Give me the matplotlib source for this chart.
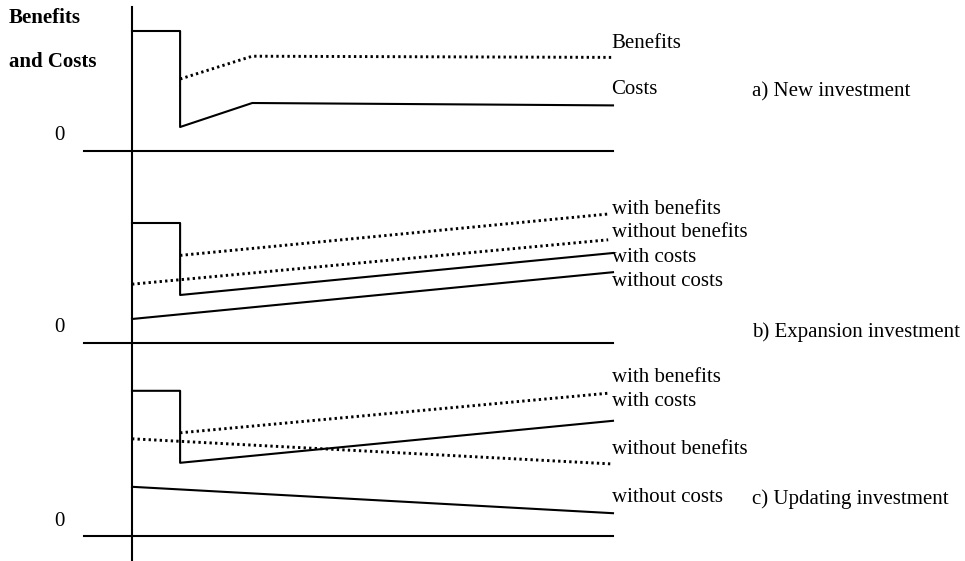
import matplotlib.pyplot as plt

# Data (time on x, level on y; 0 = each panel's baseline) ------------------
a_cost_t = [0, 1, 1, 2.5, 10]
a_cost_v = [10, 10, 2, 4, 3.8]
a_ben_t = [1, 2.5, 10]
a_ben_v = [6, 7.9, 7.8]

b_with_cost_t = [0, 1, 1, 10]
b_with_cost_v = [10, 10, 4, 7.5]
b_without_cost_t = [0, 10]
b_without_cost_v = [2, 5.9]
b_with_ben_t = [1, 9.9]
b_with_ben_v = [7.3, 10.75]
b_without_ben_t = [0, 9.9]
b_without_ben_v = [4.9, 8.6]

c_with_cost_t = [0, 1, 1, 10]
c_with_cost_v = [12.1, 12.1, 6.1, 9.6]
c_with_ben_t = [1, 9.9]
c_with_ben_v = [8.6, 11.9]
c_without_ben_t = [0, 10]
c_without_ben_v = [8.1, 6.0]
c_without_cost_t = [0, 10]
c_without_cost_v = [4.1, 1.9]

# curve labels: (text, y) placed at the right end of the lines
a_labels = [("Benefits", 9.0), ("Costs", 5.1)]
b_labels = [("with benefits", 11.1), ("without benefits", 9.2),
            ("with costs", 7.1), ("without costs", 5.1)]
c_labels = [("with benefits", 13.25), ("with costs", 11.2),
            ("without benefits", 7.2), ("without costs", 3.2)]
titles = [("a) New investment", 4.9), ("b) Expansion investment", 0.9),
          ("c) Updating investment", 3.1)]

# Layout (pixels of a 965x561 image) ----------------------------------------
W, H = 965, 561
X0, PX_X = 132, 48.1          # pixel of t=0, pixels per time unit
PX_Y = 12.0                   # pixels per level unit
panels = [(0, 172, 151), (172, 365, 343), (365, 561, 536)]  # top, bottom, baseline

SERIF = "Liberation Serif"
FS = 15
LW = 1.5
DOT = dict(color="black", lw=2.1, linestyle=(0, (0.8, 1.1)), dash_capstyle="butt")
SOLID = dict(color="black", lw=LW)

fig = plt.figure(figsize=(W / 100, H / 100), dpi=100)
axes = []
for top, bottom, base in panels:
    ax = fig.add_axes([0, 1 - bottom / H, 1, (bottom - top) / H])
    ax.set_xlim(-X0 / PX_X, (W - X0) / PX_X)
    ax.set_ylim((base - bottom) / PX_Y, (base - top) / PX_Y)
    ax.axis("off")
    # baseline and vertical axis
    ax.plot([-1, 10], [0, 0], **SOLID)
    ylo, yhi = ax.get_ylim()
    ax.plot([0, 0], [ylo, yhi if top > 0 else (base - 7) / PX_Y], **SOLID)
    ax.text(-1.5, 1.25, "0", fontsize=FS, family=SERIF, ha="center", va="center")
    axes.append(ax)

ax_a, ax_b, ax_c = axes

ax_a.plot(a_cost_t, a_cost_v, **SOLID)
ax_a.plot(a_ben_t, a_ben_v, **DOT)

ax_b.plot(b_with_cost_t, b_with_cost_v, **SOLID)
ax_b.plot(b_without_cost_t, b_without_cost_v, **SOLID)
ax_b.plot(b_with_ben_t, b_with_ben_v, **DOT)
ax_b.plot(b_without_ben_t, b_without_ben_v, **DOT)

ax_c.plot(c_with_cost_t, c_with_cost_v, **SOLID)
ax_c.plot(c_with_ben_t, c_with_ben_v, **DOT)
ax_c.plot(c_without_ben_t, c_without_ben_v, **DOT)
ax_c.plot(c_without_cost_t, c_without_cost_v, **SOLID)

for ax, labels in zip(axes, [a_labels, b_labels, c_labels]):
    for txt, y in labels:
        ax.text(9.97, y, txt, fontsize=FS, family=SERIF, ha="left", va="center")

for ax, (txt, y) in zip(axes, titles):
    ax.text(12.88, y, txt, fontsize=FS, family=SERIF, ha="left", va="center")

# y-axis caption
ax_a.text(-2.56, 11.1, "Benefits", fontsize=FS, family=SERIF, weight="bold",
          ha="left", va="center")
ax_a.text(-2.56, 7.4, "and Costs", fontsize=FS, family=SERIF, weight="bold",
          ha="left", va="center")

fig.savefig("out.png", dpi=100, facecolor="white")
